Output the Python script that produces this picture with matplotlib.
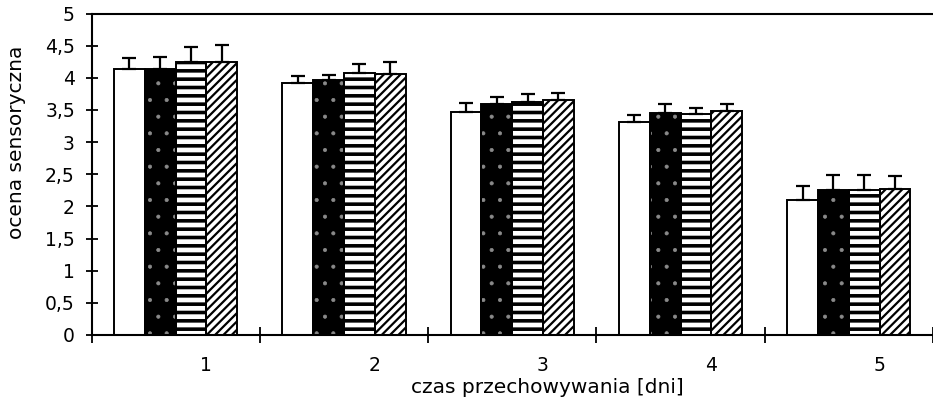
import numpy as np
import matplotlib
matplotlib.use("Agg")
import matplotlib.pyplot as plt

plt.rcParams["font.family"] = ["DejaVu Sans"]

DAYS = ["1", "2", "3", "4", "5"]
Y_TICKS = [0, 0.5, 1, 1.5, 2, 2.5, 3, 3.5, 4, 4.5, 5]
Y_LABELS = ["0", "0,5", "1", "1,5", "2", "2,5", "3", "3,5", "4", "4,5", "5"]

# four variants per storage day
s1 = [4.13, 3.92, 3.47, 3.32, 2.10]
s2 = [4.13, 3.96, 3.59, 3.45, 2.26]
s3 = [4.25, 4.08, 3.63, 3.44, 2.25]
s4 = [4.25, 4.06, 3.66, 3.48, 2.27]
e1 = [0.18, 0.11, 0.14, 0.10, 0.21]
e2 = [0.20, 0.09, 0.11, 0.14, 0.23]
e3 = [0.23, 0.13, 0.12, 0.09, 0.24]
e4 = [0.26, 0.18, 0.10, 0.11, 0.21]

# (fill, hatch colour, hatch, hatch linewidth)
STYLES = [
    ("white", "black", None, 1.0),
    ("black", "#8a8a8a", ".", 0.5),
    ("white", "black", "--", 2.6),
    ("white", "black", "////", 1.6),
]

W, H = 933, 407
fig = plt.figure(figsize=(W / 100, H / 100), dpi=100)
left_px, right_px, top_px, bot_px = 91.5, 933, 13.5, 335
ax = fig.add_axes([left_px / W, 1 - bot_px / H,
                   (right_px - left_px) / W, (bot_px - top_px) / H])

x = np.arange(1, len(DAYS) + 1)
bw = 0.183
series = [s1, s2, s3, s4]
errs = [e1, e2, e3, e4]
for k, (vals, err, st) in enumerate(zip(series, errs, STYLES)):
    pos = x + (k - 1.5) * bw
    fill, hcol, hatch, hlw = st
    with plt.rc_context({"hatch.linewidth": hlw}):
        bars = ax.bar(pos, vals, width=bw, color=fill, edgecolor=hcol,
                      hatch=hatch, linewidth=0, zorder=2)
        for b in bars:
            if hasattr(b, "set_hatch_linewidth"):
                b.set_hatch_linewidth(hlw)
    ax.bar(pos, vals, width=bw, fill=False, edgecolor="black",
           linewidth=1.4, zorder=3)
    ax.errorbar(pos, vals, yerr=[np.zeros(len(vals)), err], fmt="none",
                ecolor="black", elinewidth=1.6, capsize=4.8, capthick=1.6,
                zorder=4)

ax.set_xlim(0.5, 0.5 + (right_px - left_px) / 169)
ax.set_ylim(0, 5)
ax.set_yticks(Y_TICKS)
ax.set_yticklabels(Y_LABELS)
# the old spreadsheet draws the day numbers a little right of the groups
ax.set_xticks(x + 0.18)
ax.set_xticklabels(DAYS)
ax.set_xticks(np.arange(0.5, 6, 1), minor=True)
ax.tick_params(axis="y", direction="inout", length=8, width=1.3,
               labelsize=13.5, pad=8)
ax.tick_params(axis="x", which="major", length=0, labelsize=13.5, pad=15)
ax.tick_params(axis="x", which="minor", direction="inout", length=12,
               width=1.3)

for side in ["left", "bottom", "top"]:
    ax.spines[side].set_linewidth(1.5)
ax.spines["right"].set_visible(False)

ax.set_ylabel("ocena sensoryczna", fontsize=14.5)
ax.yaxis.set_label_coords(-0.078, 0.6)
ax.set_xlabel("czas przechowywania [dni]", fontsize=14.5)
ax.xaxis.set_label_coords(0.542, -0.135)

fig.savefig("out.png", dpi=100)
